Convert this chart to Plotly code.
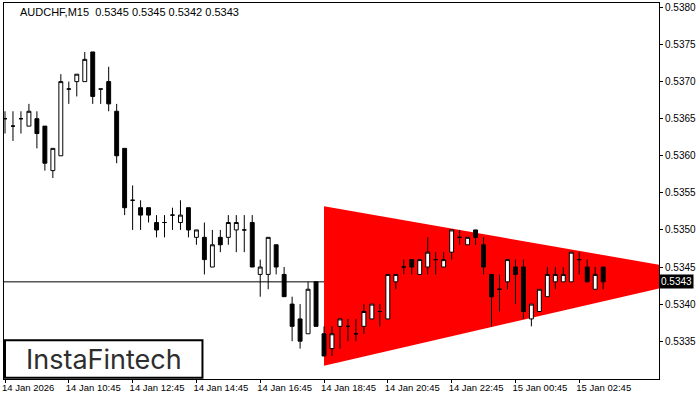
import plotly.graph_objects as go

# ---- data (AUDCHF M15) ----
bar_index = list(range(76))
opens = [0.5365, 0.5364, 0.5365, 0.5364, 0.5365, 0.5364, 0.5358, 0.5360, 0.5369, 0.5370,
         0.5370, 0.5374, 0.5369, 0.5370, 0.5366, 0.5361, 0.5354, 0.5353, 0.5353, 0.5351,
         0.5351, 0.5352, 0.5351, 0.5353, 0.5349, 0.5349, 0.5345, 0.5349, 0.5349, 0.5350,
         0.5350, 0.5351, 0.5344, 0.5344, 0.5348, 0.5344, 0.5340, 0.5338, 0.5336, 0.5343,
         0.5336, 0.5334, 0.5337, 0.5337, 0.5336, 0.5337, 0.5338, 0.5339, 0.5338, 0.5343,
         0.5345, 0.5346, 0.5344, 0.5345, 0.5346, 0.5345, 0.5347, 0.5349, 0.5348, 0.5350,
         0.5348, 0.5344, 0.5342, 0.5343, 0.5345, 0.5345, 0.5338, 0.5339, 0.5341, 0.5343,
         0.5343, 0.5343, 0.5346, 0.5345, 0.5342, 0.5345]
highs = [0.5366, 0.5366, 0.5366, 0.5367, 0.5366, 0.5364, 0.5361, 0.5371, 0.5370, 0.5371,
         0.5374, 0.5374, 0.5369, 0.5372, 0.5367, 0.5361, 0.5356, 0.5354, 0.5353, 0.5352,
         0.5352, 0.5353, 0.5354, 0.5353, 0.5350, 0.5351, 0.5350, 0.5350, 0.5352, 0.5352,
         0.5352, 0.5352, 0.5346, 0.5349, 0.5348, 0.5345, 0.5341, 0.5340, 0.5343, 0.5343,
         0.5337, 0.5337, 0.5338, 0.5338, 0.5338, 0.5340, 0.5340, 0.5340, 0.5344, 0.5344,
         0.5346, 0.5346, 0.5346, 0.5349, 0.5347, 0.5347, 0.5350, 0.5350, 0.5349, 0.5350,
         0.5349, 0.5344, 0.5344, 0.5346, 0.5346, 0.5346, 0.5340, 0.5342, 0.5345, 0.5345,
         0.5345, 0.5347, 0.5347, 0.5346, 0.5345, 0.5345]
lows = [0.5363, 0.5362, 0.5363, 0.5364, 0.5361, 0.5358, 0.5357, 0.5360, 0.5367, 0.5368,
        0.5370, 0.5367, 0.5367, 0.5366, 0.5359, 0.5352, 0.5350, 0.5350, 0.5351, 0.5349,
        0.5349, 0.5350, 0.5350, 0.5349, 0.5348, 0.5344, 0.5345, 0.5347, 0.5348, 0.5347,
        0.5347, 0.5345, 0.5341, 0.5342, 0.5344, 0.5341, 0.5335, 0.5334, 0.5336, 0.5337,
        0.5333, 0.5333, 0.5334, 0.5335, 0.5335, 0.5336, 0.5338, 0.5337, 0.5338, 0.5342,
        0.5344, 0.5344, 0.5344, 0.5344, 0.5344, 0.5345, 0.5346, 0.5348, 0.5348, 0.5348,
        0.5344, 0.5337, 0.5339, 0.5342, 0.5340, 0.5338, 0.5337, 0.5339, 0.5341, 0.5342,
        0.5343, 0.5343, 0.5344, 0.5343, 0.5342, 0.5342]
closes = [0.5365, 0.5364, 0.5365, 0.5366, 0.5363, 0.5359, 0.5361, 0.5370, 0.5369, 0.5371,
          0.5373, 0.5368, 0.5369, 0.5367, 0.5360, 0.5353, 0.5354, 0.5352, 0.5352, 0.5350,
          0.5351, 0.5352, 0.5352, 0.5350, 0.5350, 0.5346, 0.5348, 0.5348, 0.5351, 0.5351,
          0.5350, 0.5345, 0.5345, 0.5349, 0.5345, 0.5341, 0.5337, 0.5335, 0.5342, 0.5337,
          0.5333, 0.5336, 0.5338, 0.5337, 0.5336, 0.5339, 0.5340, 0.5339, 0.5344, 0.5344,
          0.5345, 0.5345, 0.5346, 0.5347, 0.5346, 0.5346, 0.5350, 0.5349, 0.5349, 0.5349,
          0.5345, 0.5341, 0.5342, 0.5346, 0.5344, 0.5339, 0.5340, 0.5342, 0.5344, 0.5344,
          0.5344, 0.5347, 0.5346, 0.5343, 0.5344, 0.5343]

tick_index = [0, 8, 16, 24, 32, 40, 48, 56, 64, 72]
tick_labels = ["14 Jan 2026", "14 Jan 10:45", "14 Jan 12:45", "14 Jan 14:45", "14 Jan 16:45",
               "14 Jan 18:45", "14 Jan 20:45", "14 Jan 22:45", "15 Jan 00:45", "15 Jan 02:45"]
price_ticks = [0.5335, 0.5340, 0.5345, 0.5350, 0.5355, 0.5360, 0.5365, 0.5370, 0.5375, 0.5380]

# symmetrical triangle pattern (start bar, end bar)
pattern_x = [40, 82]
pattern_upper = [0.53532, 0.53453]
pattern_lower = [0.53317, 0.53421]

symbol = "AUDCHF,M15"
x_range = [-0.125, 82]
y_range = [0.53299, 0.53806]

FONT = "Liberation Sans"
FSX = 9.5
FSY = 10

fig = go.Figure()

# candles
fig.add_trace(go.Candlestick(
    x=bar_index, open=opens, high=highs, low=lows, close=closes,
    increasing=dict(fillcolor="white", line=dict(color="black", width=1)),
    decreasing=dict(fillcolor="black", line=dict(color="black", width=1)),
    whiskerwidth=0, showlegend=False))

# red triangle (below the candles)
tri_pts = list(zip(pattern_x, pattern_upper)) + list(zip(pattern_x[::-1], pattern_lower[::-1]))
tri_path = "M " + " L ".join(f"{x},{y}" for x, y in tri_pts) + " Z"
fig.add_shape(type="path", xref="x", yref="y", path=tri_path,
              fillcolor="#FF0000", line=dict(width=0), layer="below")

# current price line
fig.add_shape(type="line", xref="paper", yref="y", x0=0, x1=1, y0=closes[-1], y1=closes[-1],
              line=dict(color="black", width=1), layer="below")

fig.update_layout(
    width=700, height=400,
    margin=dict(l=2, r=41, t=2, b=21),
    paper_bgcolor="white", plot_bgcolor="white",
    font=dict(family=FONT, size=FSY, color="black"),
    showlegend=False,
    xaxis=dict(range=x_range, rangeslider=dict(visible=False), showgrid=False, zeroline=False,
               tickmode="array", tickvals=tick_index, ticktext=tick_labels, tickangle=0,
               ticks="outside", ticklen=3, tickcolor="black", ticklabelposition="outside right",
               ticklabelshift=-4,
               showline=True, linecolor="black", linewidth=1, mirror=True,
               tickfont=dict(family=FONT, size=FSX, color="black")),
    yaxis=dict(range=y_range, side="right", showgrid=False, zeroline=False,
               tickmode="array", tickvals=price_ticks, tickformat=".4f",
               ticks="outside", ticklen=3, tickcolor="black", ticklabelstandoff=0,
               ticklabeloverflow="allow",
               showline=True, linecolor="black", linewidth=1, mirror=True,
               tickfont=dict(family=FONT, size=FSY, color="black")),
)

# header text
fig.add_annotation(
    xref="paper", yref="paper", x=0.022, y=0.998, xanchor="left", yanchor="top",
    text=f"{symbol}  {opens[-1]:.4f} {highs[-1]:.4f} {lows[-1]:.4f} {closes[-1]:.4f}",
    showarrow=False, font=dict(family=FONT, size=11, color="black"))

# current price label
fig.add_annotation(
    xref="paper", yref="y", x=1.0, y=closes[-1], xanchor="left", yanchor="middle",
    text=f"{closes[-1]:.4f}", showarrow=False, bgcolor="black",
    font=dict(family=FONT, size=FSY, color="white"), borderpad=1, xshift=0)

# logo box
fig.add_shape(type="rect", xref="paper", yref="paper", x0=0.0015, x1=0.303, y0=0.003, y1=0.103,
              line=dict(color="black", width=2), fillcolor="white", layer="above")
fig.add_annotation(
    xref="paper", yref="paper", x=0.152, y=0.053, xanchor="center", yanchor="middle",
    text="InstaFintech", showarrow=False, font=dict(family="Inter", size=27, color="#2e2e2e"))

fig.write_html("out.html", config={"displayModeBar": False},
               post_script="document.body.style.margin='0';")
